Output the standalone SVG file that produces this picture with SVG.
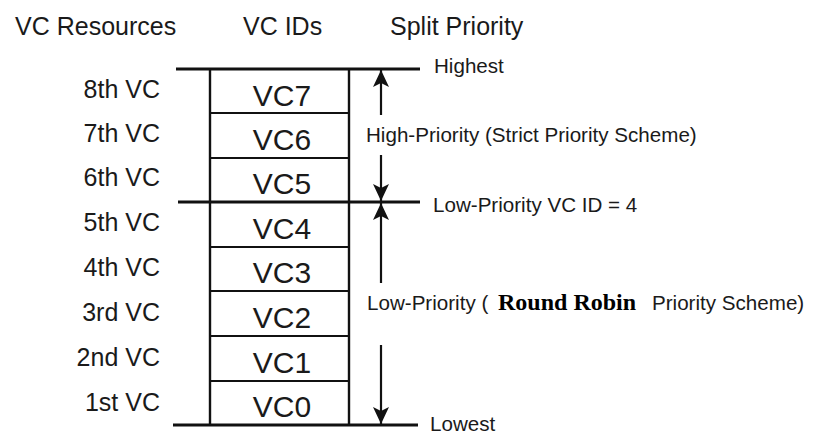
<svg xmlns="http://www.w3.org/2000/svg" width="820" height="445" viewBox="0 0 820 445">
<style>
.s{font-family:"Liberation Sans",Arial,sans-serif;fill:#1a1a1a}
.h{font-size:25px}
.r{font-size:25px;text-anchor:end}
.v{font-size:30px;text-anchor:middle}
.p{font-size:20.6px}
.rr{font-family:"Liberation Serif","Times New Roman",serif;font-weight:bold;font-size:24px;fill:#000}
.main{stroke:#111;stroke-width:3.2;fill:none}
.box{stroke:#111;stroke-width:2.4;fill:none}
.sep{stroke:#111;stroke-width:2;fill:none}
.arr{stroke:#111;stroke-width:2.2;fill:none;marker-end:url(#ah)}
</style>
<defs>
<marker id="ah" markerUnits="userSpaceOnUse" markerWidth="18" markerHeight="18" viewBox="0 0 18 18" refX="17" refY="9" orient="auto">
<path d="M0,1 L17,9 L0,17 L4,9 Z" fill="#111"/>
</marker>
</defs>
<rect width="820" height="445" fill="#fff"/>
<g id="headers">
<text class="s h" x="15" y="35">VC Resources</text>
<text class="s h" x="243" y="35">VC IDs</text>
<text class="s h" x="390" y="35">Split Priority</text>
</g>
<g id="resources">
<text class="s r" x="160" y="98">8th VC</text>
<text class="s r" x="160" y="142">7th VC</text>
<text class="s r" x="160" y="186">6th VC</text>
<text class="s r" x="160" y="231">5th VC</text>
<text class="s r" x="160" y="276">4th VC</text>
<text class="s r" x="160" y="321">3rd VC</text>
<text class="s r" x="160" y="366">2nd VC</text>
<text class="s r" x="160" y="411">1st VC</text>
</g>
<g id="vc-stack">
<line class="box" x1="210" y1="69" x2="210" y2="425"/>
<line class="box" x1="349" y1="69" x2="349" y2="425"/>
<line class="sep" x1="210" y1="113" x2="349" y2="113"/>
<line class="sep" x1="210" y1="158" x2="349" y2="158"/>
<line class="sep" x1="210" y1="247" x2="349" y2="247"/>
<line class="sep" x1="210" y1="291" x2="349" y2="291"/>
<line class="sep" x1="210" y1="336" x2="349" y2="336"/>
<line class="sep" x1="210" y1="381" x2="349" y2="381"/>
<text class="s v" x="282" y="106">VC7</text>
<text class="s v" x="282" y="150">VC6</text>
<text class="s v" x="282" y="194">VC5</text>
<text class="s v" x="282" y="239">VC4</text>
<text class="s v" x="282" y="283">VC3</text>
<text class="s v" x="282" y="328">VC2</text>
<text class="s v" x="282" y="373">VC1</text>
<text class="s v" x="282" y="417">VC0</text>
</g>
<g id="levels">
<line class="main" x1="176" y1="69" x2="420" y2="69"/>
<line class="main" x1="178" y1="202" x2="420" y2="202"/>
<line class="main" x1="173" y1="425" x2="418" y2="425"/>
</g>
<g id="connectors">
<line class="arr" x1="381" y1="115" x2="381" y2="70"/>
<line class="arr" x1="381" y1="155" x2="381" y2="201"/>
<line class="arr" x1="381" y1="283" x2="381" y2="203"/>
<line class="arr" x1="381" y1="345" x2="381" y2="424"/>
</g>
<g id="labels">
<text class="s p" x="434" y="73">Highest</text>
<text class="s p" x="366" y="142">High-Priority (Strict Priority Scheme)</text>
<text class="s p" x="433" y="212">Low-Priority VC ID = 4</text>
<text class="s p" x="367" y="310">Low-Priority (</text>
<text class="rr" x="498" y="310">Round Robin</text>
<text class="s p" x="652" y="310">Priority Scheme)</text>
<text class="s p" x="430" y="431">Lowest</text>
</g>
</svg>
